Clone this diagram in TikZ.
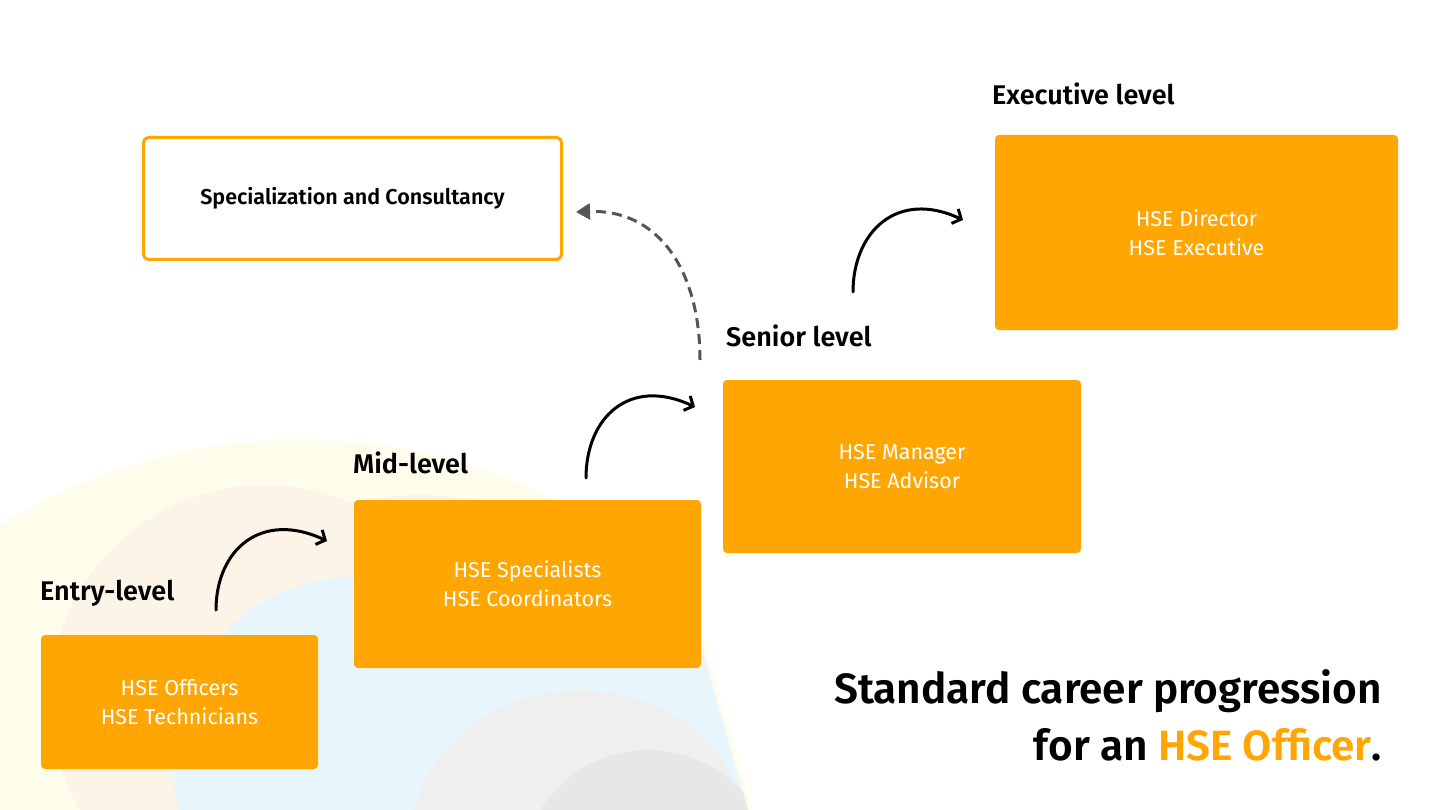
\documentclass[tikz,border=0pt]{standalone}
\usepackage{fontspec}
\setmainfont{Fira Sans}
\newfontfamily\firasb{Fira Sans SemiBold}
\usetikzlibrary{arrows.meta}
\definecolor{hseorange}{HTML}{FFA602}
\definecolor{bgyellow}{HTML}{FEFCEB}
\definecolor{bgpeach}{HTML}{FDF4E8}
\definecolor{bgblue}{HTML}{E7F6FC}
\definecolor{bggray}{HTML}{EFEFEF}
\definecolor{bggrayd}{HTML}{E7E7E7}
\definecolor{dashgray}{HTML}{555555}
\tikzset{
  levelbox/.style={rectangle, rounded corners=4pt, fill=hseorange, text=white,
    align=center, font=\fontsize{21.5}{29}\selectfont, inner sep=0pt},
  levellabel/.style={anchor=base west, inner sep=0pt, font=\fontsize{27}{30}\selectfont\firasb},
  steparrow/.style={line width=3pt, line cap=round, -{Straight Barb[length=7pt,width=16pt,line width=3pt]}},
  altarrow/.style={line width=3pt, dashgray, dash pattern=on 10pt off 6pt, -{Triangle[length=14pt,width=16pt]}},
  titletext/.style={anchor=base east, inner sep=0pt, font=\fontsize{42.3}{50}\selectfont\firasb}
}
\begin{document}
\begin{tikzpicture}[x=1pt,y=-1pt]
\useasboundingbox (0,0) rectangle (1440,810);
\fill[white] (0,0) rectangle (1440,810);
% background blobs
\begin{scope}
\clip (0,380) -- (628,380) -- (752,810) -- (0,810) -- cycle;
\fill[bgyellow] (300,1010) circle (570);
\fill[bgpeach] (265,700) circle (215);
\fill[bgpeach] (420,760) ellipse (300 and 265);
\end{scope}
\begin{scope}
\clip (0,380) -- (625,380) -- (748,810) -- (0,810) -- cycle;
\fill[bgblue] (355,760) circle (183);
\fill[bgblue] (560,800) circle (262);
\fill[bggray] (580,850) ellipse (172 and 160);
\fill[bggrayd] (648,872) ellipse (125 and 122);
\end{scope}
% boxes
\node[levelbox, minimum width=277pt, minimum height=134pt] (entry) at (179.5,702) {HSE Officers\\HSE Technicians};
\node[levelbox, minimum width=347pt, minimum height=168pt] (mid) at (527.5,584) {HSE Specialists\\HSE Coordinators};
\node[levelbox, minimum width=358pt, minimum height=173pt] (senior) at (902,466.5) {HSE Manager\\HSE Advisor};
\node[levelbox, minimum width=403pt, minimum height=195pt] (exec) at (1196.5,232.5) {HSE Director\\HSE Executive};
\node[rectangle, rounded corners=5pt, draw=hseorange, line width=3pt, fill=white,
  minimum width=418pt, minimum height=122pt, font=\fontsize{21.5}{24}\selectfont\firasb] (spec) at (352.5,198.5) {Specialization and Consultancy};
% labels
\node[levellabel] (lentry) at (40,600) {Entry-level};
\node[levellabel] (lmid) at (353,473) {Mid-level};
\node[levellabel] (lsenior) at (726,346) {Senior level};
\node[levellabel] (lexec) at (992,105) {Executive level};
% arrows
\coordinate (a1s) at (216,610); \coordinate (a1e) at (327,541);
\coordinate (a2s) at (586,478); \coordinate (a2e) at (695,407);
\coordinate (a3s) at (853,292); \coordinate (a3e) at (963,220);
\coordinate (ds) at (700,360); \coordinate (de) at (576,212);
\draw[steparrow] (a1s) .. controls +(0,-60) and +(-66,-31) .. (a1e);
\draw[steparrow] (a2s) .. controls +(0,-60) and +(-66,-31) .. (a2e);
\draw[steparrow] (a3s) .. controls +(0,-60) and +(-66,-31) .. (a3e);
\draw[altarrow] (ds) .. controls +(0,-90) and +(82,-3) .. (de);
% title
\node[titletext] (t1) at (1382,703) {Standard career progression};
\node[titletext] (t2) at (1382,760) {for an \textcolor{hseorange}{HSE Officer}.};
\end{tikzpicture}
\end{document}
